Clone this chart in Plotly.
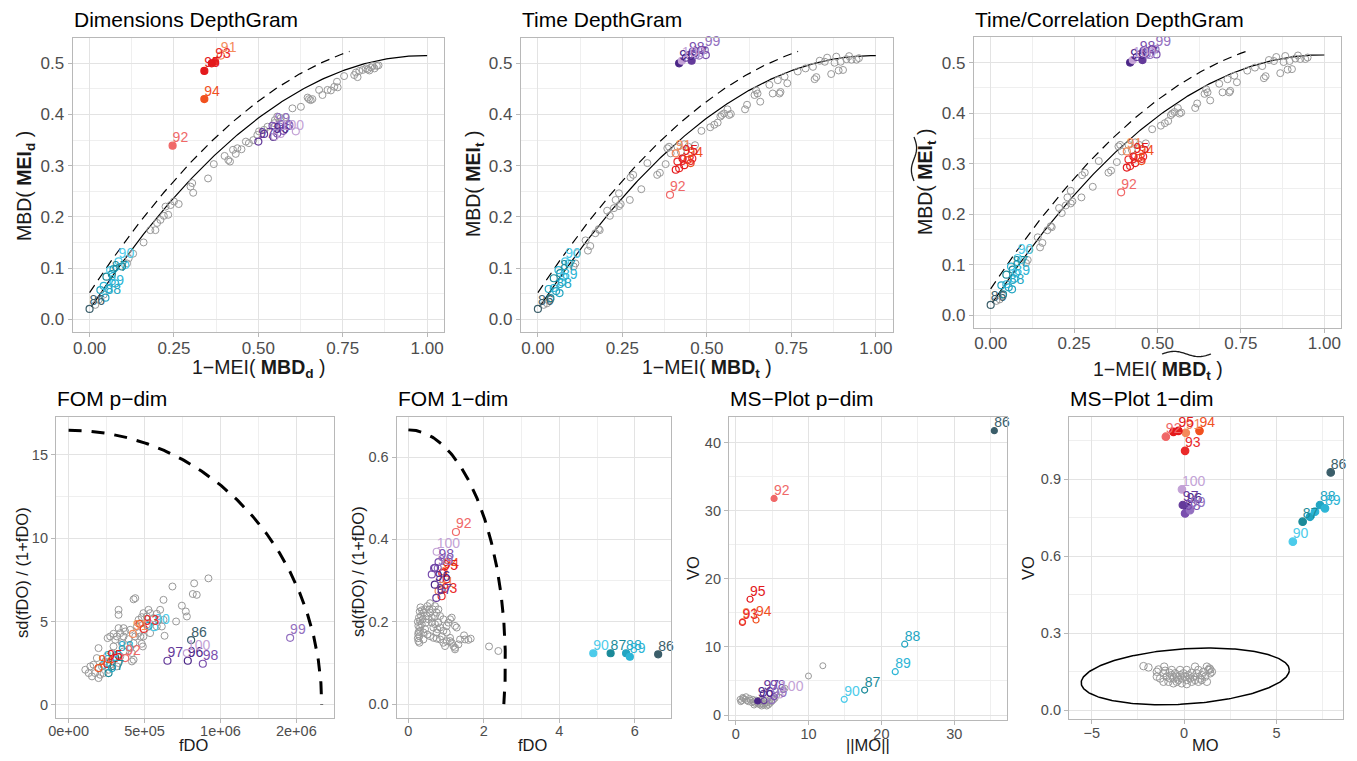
import numpy as np
import plotly.graph_objects as go

W, H = 1357, 761
FONT = "Liberation Sans, Arial, Helvetica, sans-serif"
GRAY = "#999999"
MAJOR_GRID = "#e3e3e3"
MINOR_GRID = "#efefef"
BORDER = "#b8b8b8"
TICK_TXT = "#4d4d4d"

PALETTE = {86: "#3b5e6a", 87: "#1b8a99", 88: "#22a5c2", 89: "#2cb5d6", 90: "#4ccbea",
           91: "#f48a5b", 92: "#f06868", 93: "#ea2a2a", 94: "#f1511f", 95: "#e3191c",
           96: "#4b2687", 97: "#643a9a", 98: "#7a4fae", 99: "#9370c0", 100: "#c3a2d6"}

# ---------------- Dimensions DepthGram ----------------
p1_gray_x = [0.017, 0.027, 0.042, 0.111, 0.129, 0.116, 0.160, 0.180, 0.195, 0.200, 0.210, 0.220, 0.233,
             0.225, 0.240, 0.250, 0.264, 0.304, 0.307, 0.299, 0.351, 0.368, 0.400, 0.411, 0.416, 0.425,
             0.433, 0.438, 0.450, 0.463, 0.472, 0.485, 0.497, 0.502, 0.517, 0.527, 0.547, 0.549, 0.556,
             0.566, 0.581, 0.601, 0.626, 0.646, 0.650, 0.655, 0.660, 0.680, 0.690, 0.705, 0.715, 0.725,
             0.733, 0.735, 0.754, 0.784, 0.789, 0.794, 0.799, 0.809, 0.819, 0.824, 0.829, 0.834, 0.839,
             0.844, 0.851, 0.856]
p1_gray_y = [0.028, 0.038, 0.048, 0.109, 0.128, 0.119, 0.150, 0.174, 0.174, 0.188, 0.194, 0.202, 0.204,
             0.220, 0.223, 0.230, 0.225, 0.266, 0.247, 0.259, 0.275, 0.303, 0.319, 0.311, 0.308, 0.331,
             0.323, 0.334, 0.332, 0.347, 0.344, 0.350, 0.360, 0.367, 0.370, 0.376, 0.383, 0.389, 0.396,
             0.393, 0.395, 0.412, 0.415, 0.433, 0.430, 0.428, 0.430, 0.448, 0.438, 0.448, 0.447, 0.454,
             0.464, 0.453, 0.475, 0.477, 0.482, 0.473, 0.485, 0.487, 0.490, 0.488, 0.486, 0.492, 0.495,
             0.490, 0.495, 0.496]
p1_out_id = [86, 87, 88, 89, 90, 88, 89, 87, 90, 88, 89, 90, 87,
             91, 92, 93, 94, 95, 95,
             96, 97, 98, 99, 100, 97, 98, 99, 99, 100, 98, 100]
p1_out_x = [0.000, 0.066, 0.047, 0.056, 0.086, 0.032, 0.042, 0.050, 0.061, 0.071, 0.076, 0.106, 0.096,
            0.389, 0.246, 0.372, 0.340, 0.340, 0.362,
            0.545, 0.500, 0.556, 0.548, 0.566, 0.517, 0.542, 0.564, 0.592, 0.611, 0.574, 0.548]
p1_out_y = [0.020, 0.088, 0.042, 0.059, 0.113, 0.057, 0.065, 0.083, 0.096, 0.098, 0.070, 0.106, 0.103,
            0.515, 0.339, 0.503, 0.430, 0.485, 0.500,
            0.356, 0.347, 0.363, 0.376, 0.362, 0.362, 0.378, 0.376, 0.379, 0.367, 0.368, 0.357]
p1_out_lab = [1, 1, 1, 1, 1, 0, 0, 0, 0, 0, 0, 0, 0,
              1, 1, 1, 1, 1, 0,
              1, 1, 1, 1, 1, 0, 0, 0, 0, 0, 0, 0]
p1_out_fill = [0, 0, 0, 0, 0, 0, 0, 0, 0, 0, 0, 0, 0,
               0, 1, 1, 1, 1, 1,
               0, 0, 0, 0, 0, 0, 0, 0, 0, 0, 0, 0]

# ---------------- Time DepthGram ----------------
p2_gray_x = [0.017, 0.027, 0.037, 0.111, 0.106, 0.116, 0.141, 0.155, 0.148, 0.170,
             0.180, 0.183, 0.205, 0.213, 0.225, 0.230, 0.240, 0.240, 0.245, 0.274,
             0.282, 0.272, 0.306, 0.324, 0.353, 0.361, 0.378, 0.383, 0.388, 0.393,
             0.413, 0.423, 0.433, 0.445, 0.465, 0.484, 0.510, 0.522, 0.532, 0.540,
             0.544, 0.551, 0.561, 0.566, 0.571, 0.613, 0.619, 0.641, 0.646, 0.650,
             0.658, 0.685, 0.695, 0.715, 0.710, 0.718, 0.730, 0.738, 0.769, 0.792,
             0.814, 0.819, 0.824, 0.834, 0.849, 0.856, 0.868, 0.878, 0.883, 0.890,
             0.896, 0.903, 0.913, 0.921, 0.928, 0.943, 0.950]
p2_gray_y = [0.028, 0.031, 0.038, 0.109, 0.103, 0.129, 0.154, 0.143, 0.134, 0.168,
             0.176, 0.174, 0.212, 0.202, 0.217, 0.233, 0.246, 0.221, 0.225, 0.277,
             0.282, 0.233, 0.254, 0.305, 0.282, 0.286, 0.303, 0.334, 0.337, 0.324,
             0.337, 0.327, 0.342, 0.337, 0.340, 0.368, 0.375, 0.380, 0.384, 0.396,
             0.399, 0.402, 0.410, 0.399, 0.401, 0.410, 0.419, 0.438, 0.447, 0.441,
             0.425, 0.458, 0.441, 0.441, 0.467, 0.444, 0.474, 0.461, 0.484, 0.490,
             0.493, 0.469, 0.473, 0.505, 0.503, 0.511, 0.479, 0.501, 0.513, 0.486,
             0.503, 0.487, 0.508, 0.514, 0.507, 0.507, 0.510]
p2_out_id = [86, 87, 88, 89, 90, 88, 87, 89, 90, 88, 89, 87, 90,
             91, 92, 93, 94, 95, 93, 95, 94, 93, 95,
             96, 97, 98, 99, 100, 98, 99, 99, 97, 98, 97]
p2_out_x = [0.000, 0.066, 0.054, 0.071, 0.081, 0.032, 0.047, 0.061, 0.076, 0.064, 0.047, 0.037, 0.091,
            0.408, 0.391, 0.418, 0.443, 0.428, 0.413, 0.433, 0.452, 0.457, 0.408,
            0.418, 0.455, 0.447, 0.494, 0.426, 0.458, 0.467, 0.477, 0.484, 0.497, 0.438]
p2_out_y = [0.020, 0.090, 0.055, 0.072, 0.113, 0.059, 0.080, 0.096, 0.083, 0.051, 0.061, 0.041, 0.109,
            0.324, 0.243, 0.295, 0.311, 0.314, 0.308, 0.301, 0.305, 0.314, 0.292,
            0.500, 0.505, 0.516, 0.526, 0.505, 0.523, 0.516, 0.515, 0.526, 0.516, 0.511]
p2_out_lab = [1, 1, 1, 1, 1, 0, 0, 0, 0, 0, 0, 0, 0,
              1, 1, 1, 1, 1, 0, 0, 0, 0, 0,
              1, 1, 1, 1, 1, 0, 0, 0, 0, 0, 0]
p2_out_fill = [0, 0, 0, 0, 0, 0, 0, 0, 0, 0, 0, 0, 0,
               0, 0, 0, 0, 0, 0, 0, 0, 0, 0,
               1, 1, 0, 0, 1, 0, 0, 0, 0, 0, 0]

# ---------------- Time/Correlation DepthGram (same depths to plotting precision) ----------------
p3_gray_x = list(p2_gray_x)
p3_gray_y = list(p2_gray_y)
p3_out_id = list(p2_out_id)
p3_out_x = list(p2_out_x)
p3_out_y = list(p2_out_y)
p3_out_lab = list(p2_out_lab)
p3_out_fill = list(p2_out_fill)

# DepthGram parabola and its shifted outlier boundary
dg_a0, dg_a1, dg_a2 = 0.019, 1.0, -0.504
dg_shift = 0.033
dg_solid_from, dg_dash_to = 0.005, 0.77

# ---------------- FOM p-dim (fDO values in units of 1e5) ----------------
p4_gray_x_1e5 = [1.10, 1.32, 1.54, 1.75, 1.43, 1.97, 2.08, 2.30, 1.64, 1.86,
                 1.97, 2.19, 2.41, 2.52, 2.63, 2.74, 2.85, 2.96, 3.07, 3.18,
                 3.29, 3.40, 3.62, 2.57, 2.74, 2.96, 3.07, 3.18, 3.29, 3.29,
                 3.29, 3.40, 3.51, 3.62, 3.73, 3.62, 3.95, 4.06, 4.17, 4.28,
                 4.39, 4.17, 4.28, 4.06, 4.50, 4.61, 4.72, 4.82, 4.93, 4.28,
                 4.39, 4.61, 4.72, 4.82, 4.89, 5.15, 5.26, 5.37, 5.59, 5.81,
                 5.92, 6.03, 6.14, 6.25, 6.32, 6.84, 7.08, 7.46, 7.72, 7.79,
                 8.27, 8.18, 8.44, 9.21, 6.25, 5.81, 5.15, 5.37, 4.93]
p4_gray_y = [2.10, 1.90, 1.70, 1.90, 2.30, 1.60, 1.80, 1.90, 2.40, 2.80,
             3.40, 2.30, 2.60, 2.90, 2.10, 2.40, 3.10, 3.50, 2.80, 2.30,
             2.50, 2.90, 3.20, 4.00, 4.10, 4.26, 3.90, 4.10, 4.60, 5.40,
             5.70, 4.30, 3.70, 4.10, 4.40, 4.60, 3.94, 3.40, 3.10, 3.70,
             4.10, 2.60, 2.70, 4.50, 4.70, 4.30, 4.86, 5.26, 5.50, 6.33,
             6.40, 5.10, 4.10, 3.66, 3.50, 5.30, 5.70, 5.50, 5.20, 5.46,
             5.10, 5.70, 4.70, 6.30, 4.14, 7.10, 5.00, 5.95, 5.60, 5.30,
             7.29, 6.65, 6.60, 7.59, 5.10, 4.70, 4.80, 4.30, 4.10]
p4_out_id = [86, 87, 88, 89, 90, 91, 92, 93, 94, 95, 96, 97, 98, 99, 100, 88, 94, 88, 95]
p4_out_x_1e5 = [8.07, 2.63, 3.25, 2.30, 5.64, 4.24, 3.73, 4.95, 1.97, 2.55, 7.85, 6.51, 8.84, 14.59, 7.79,
                5.27, 4.67, 2.85, 3.07]
p4_out_y = [3.88, 1.90, 3.00, 2.40, 4.66, 4.25, 2.80, 4.55, 2.20, 2.45, 2.64, 2.64, 2.46, 4.02, 3.10,
            4.74, 4.86, 2.20, 2.80]
p4_out_lab = [1] * 15 + [0] * 4
p4_out_fill = [0] * 19
p4_gray_x = [v * 1e5 for v in p4_gray_x_1e5]
p4_out_x = [v * 1e5 for v in p4_out_x_1e5]
fom_p_a, fom_p_b, fom_p_cy = 1.667e6, 16.49, 0.0

# ---------------- FOM 1-dim ----------------
p5_gray_x = [0.265, 0.291, 0.309, 0.265, 0.309, 0.336, 0.397, 0.442, 0.503, 0.574,
             0.645, 0.706, 0.751, 0.795, 0.839, 0.927, 1.015, 1.060, 1.104, 1.148,
             1.236, 1.280, 0.309, 0.353, 0.397, 0.442, 0.503, 0.574, 0.662, 0.751,
             0.839, 0.927, 0.971, 1.015, 1.104, 1.148, 1.192, 1.236, 1.325, 1.369,
             1.236, 1.104, 0.574, 0.486, 0.530, 0.618, 0.706, 0.768, 0.380, 0.291,
             1.475, 1.501, 1.589, 1.651, 2.137, 2.384, 0.397, 0.468, 0.839, 0.927,
             1.015, 0.751, 0.883, 0.662, 0.795, 0.618, 0.706, 0.556,
             0.250, 0.270, 0.250, 0.280, 0.300, 0.260, 0.320, 0.360]
p5_gray_y = [0.153, 0.165, 0.178, 0.190, 0.202, 0.214, 0.222, 0.230, 0.238, 0.245,
             0.230, 0.238, 0.222, 0.230, 0.214, 0.206, 0.190, 0.198, 0.206, 0.210,
             0.190, 0.186, 0.186, 0.194, 0.174, 0.182, 0.169, 0.165, 0.161, 0.159,
             0.157, 0.149, 0.141, 0.153, 0.161, 0.149, 0.141, 0.137, 0.145, 0.157,
             0.133, 0.153, 0.222, 0.214, 0.206, 0.198, 0.194, 0.182, 0.206, 0.149,
             0.167, 0.157, 0.156, 0.159, 0.140, 0.129, 0.157, 0.198, 0.186, 0.178,
             0.174, 0.174, 0.165, 0.186, 0.198, 0.210, 0.214, 0.230,
             0.160, 0.175, 0.200, 0.210, 0.225, 0.170, 0.235, 0.228]
p5_out_id = [86, 87, 88, 89, 90, 91, 92, 93, 94, 95, 96, 97, 98, 99, 100, 98, 97, 99, 96, 98, 95]
p5_out_x = [6.62, 5.36, 5.77, 5.87, 4.90, 0.80, 1.26, 0.88, 0.93, 0.90, 0.70, 0.74, 0.80, 0.78, 0.75,
            0.62, 0.706, 0.84, 0.88, 0.68, 1.015]
p5_out_y = [0.121, 0.1235, 0.1235, 0.115, 0.1235, 0.275, 0.418, 0.262, 0.322, 0.318, 0.290, 0.258, 0.345,
            0.330, 0.370, 0.315, 0.331, 0.303, 0.278, 0.330, 0.303]
p5_out_lab = [1] * 15 + [0] * 6
p5_out_fill = [1] * 5 + [0] * 16
fom_1_a, fom_1_b, fom_1_cy = 2.57, 0.566, 0.10

# ---------------- MS-Plot p-dim ----------------
p6_gray_x = [0.60, 0.82, 1.05, 1.28, 1.51, 1.74, 1.97, 2.20, 2.43, 2.66,
             2.89, 3.12, 3.34, 3.57, 3.80, 4.03, 4.26, 4.49, 4.72, 0.69,
             0.96, 1.42, 1.88, 2.34, 2.79, 3.25, 3.71, 4.17, 4.63, 4.95,
             5.18, 5.41, 5.63, 6.09, 6.55, 6.78, 9.99, 11.96, 3.34, 2.52,
             3.57, 4.26]
p6_gray_y = [2.30, 2.10, 2.45, 2.30, 2.10, 1.96, 2.20, 1.81, 1.96, 1.71,
             1.81, 1.62, 1.47, 1.71, 1.47, 1.62, 1.81, 1.47, 1.71, 1.96,
             2.59, 2.69, 2.45, 2.30, 2.20, 2.10, 1.96, 2.20, 2.10, 1.96,
             2.20, 2.45, 2.94, 3.43, 3.77, 3.92, 5.73, 7.24, 2.20, 1.47,
             1.32, 1.32]
p6_out_id = [86, 87, 88, 89, 90, 91, 92, 93, 94, 95, 96, 97, 98, 99, 100, 97, 98]
p6_out_x = [35.5, 17.7, 23.2, 21.9, 14.9, 0.95, 5.27, 0.92, 2.79, 1.97, 3.02, 3.80, 4.72, 4.95, 6.09,
            3.89, 5.27]
p6_out_y = [41.75, 3.67, 10.4, 6.36, 2.30, 13.7, 31.8, 13.6, 13.95, 17.0, 2.06, 3.18, 3.18, 2.10, 2.94,
            2.10, 2.69]
p6_out_lab = [1] * 15 + [0, 0]
p6_out_fill = [1, 0, 0, 0, 0, 0, 1, 0, 0, 0, 1, 0, 0, 0, 0, 0, 0]

# ---------------- MS-Plot 1-dim ----------------
p7_gray_x = [-2.20, -1.93, -1.48, -1.39, -1.12, -1.03, -0.94, -0.79, -0.67, -0.58,
             -0.49, -0.40, -0.31, -0.22, -0.13, -0.04, 0.05, 0.14, 0.23, 0.32,
             0.41, 0.50, 0.59, 0.68, 0.77, 0.86, 0.95, 1.05, 1.14, 1.23,
             1.32, 1.37, 1.41, 1.50, -1.30, -1.12, -0.85, -0.76, -0.58, -0.40,
             -0.13, 0.14, 0.41, 0.59, -1.48, -1.08, -0.67, -0.22, 0.14, 0.95,
             0.77, 1.23, 1.41]
p7_gray_y = [0.171, 0.166, 0.149, 0.158, 0.143, 0.153, 0.130, 0.145, 0.136, 0.123,
             0.143, 0.130, 0.117, 0.136, 0.123, 0.143, 0.130, 0.117, 0.136, 0.123,
             0.145, 0.130, 0.169, 0.143, 0.156, 0.123, 0.136, 0.149, 0.130, 0.110,
             0.156, 0.162, 0.143, 0.149, 0.123, 0.110, 0.110, 0.123, 0.104, 0.110,
             0.104, 0.101, 0.110, 0.117, 0.130, 0.169, 0.156, 0.156, 0.156, 0.117,
             0.110, 0.169, 0.158]
p7_out_id = [86, 87, 88, 89, 90, 91, 92, 93, 94, 95, 96, 97, 98, 99, 100, 95, 88, 89]
p7_out_x = [7.93, 6.41, 7.35, 7.62, 5.88, 0.09, -0.99, 0.05, 0.83, -0.31, 0.14, -0.07, 0.05, 0.32, -0.12,
            -0.58, 6.81, 7.08]
p7_out_y = [0.926, 0.734, 0.799, 0.786, 0.656, 1.080, 1.065, 1.010, 1.088, 1.088, 0.792, 0.799, 0.766,
            0.779, 0.860, 1.084, 0.753, 0.773]
p7_out_lab = [1] * 15 + [0] * 3
p7_out_fill = [1] * 18
# MS-Plot cutoff ellipse: centre and shape matrix
ms_cx, ms_cy = 0.06, 0.131
ms_m = [[5.63, 0.0], [0.0249, 0.1077]]

# ---------------- panel geometry (pixel rectangles: left, top, right, bottom) ----------------
rects = {
    1: (72.7, 37.7, 444.0, 332.0),
    2: (521.0, 37.7, 892.7, 332.0),
    3: (974.0, 37.3, 1341.0, 327.7),
    4: (56.0, 416.7, 334.3, 717.7),
    5: (396.7, 416.7, 671.0, 717.7),
    6: (729.0, 416.7, 1006.7, 720.0),
    7: (1069.0, 416.7, 1343.3, 719.0),
}


def px_x(px):
    return px / W


def px_y(py):
    return 1 - py / H


fig = go.Figure()


def refs(k):
    return ("x" if k == 1 else f"x{k}"), ("y" if k == 1 else f"y{k}")


def add_points(k, gx, gy, oid, ox, oy, olab, ofill, size):
    xa, ya = refs(k)
    fig.add_trace(go.Scatter(
        x=gx, y=gy, mode="markers", xaxis=xa, yaxis=ya, hoverinfo="skip",
        marker=dict(symbol="circle-open", size=size, color=GRAY, line=dict(width=1, color=GRAY))))
    cols = [PALETTE[i] for i in oid]
    syms = ["circle" if f else "circle-open" for f in ofill]
    fig.add_trace(go.Scatter(
        x=ox, y=oy, mode="markers", xaxis=xa, yaxis=ya, hoverinfo="skip",
        marker=dict(symbol=syms, size=size, color=cols, line=dict(width=1.2, color=cols))))
    # id labels of the outlying curves, placed just above-right of their point
    lx = [x for x, l in zip(ox, olab) if l]
    ly = [y for y, l in zip(oy, olab) if l]
    lt = [str(i) for i, l in zip(oid, olab) if l]
    lc = [PALETTE[i] for i, l in zip(oid, olab) if l]
    fig.add_trace(go.Scatter(
        x=lx, y=ly, mode="text", xaxis=xa, yaxis=ya, hoverinfo="skip",
        text=lt, textposition="top right", cliponaxis=False,
        textfont=dict(family=FONT, size=14, color=lc)))


def add_line(k, x, y, dash="solid", width=1.2):
    xa, ya = refs(k)
    fig.add_trace(go.Scatter(x=x, y=y, mode="lines", xaxis=xa, yaxis=ya, hoverinfo="skip",
                             line=dict(color="black", width=width, dash=dash)))


# DepthGram panels
for k in (1, 2, 3):
    xs = np.linspace(dg_solid_from, 1.0, 200)
    add_line(k, xs, dg_a0 + dg_a1 * xs + dg_a2 * xs ** 2)
    xd = np.linspace(0.0, dg_dash_to, 200)
    add_line(k, xd, dg_a0 + dg_a1 * xd + dg_a2 * xd ** 2 + dg_shift, dash="9px,6px", width=1.2)

add_points(1, p1_gray_x, p1_gray_y, p1_out_id, p1_out_x, p1_out_y, p1_out_lab, p1_out_fill, 7)
add_points(2, p2_gray_x, p2_gray_y, p2_out_id, p2_out_x, p2_out_y, p2_out_lab, p2_out_fill, 7)
add_points(3, p3_gray_x, p3_gray_y, p3_out_id, p3_out_x, p3_out_y, p3_out_lab, p3_out_fill, 7)

# FOM cutoff arcs
th = np.linspace(np.pi / 2, 0, 200)
add_line(4, fom_p_a * np.cos(th), fom_p_cy + fom_p_b * np.sin(th), dash="13px,10px", width=3)
th_end = -np.arcsin(fom_1_cy / fom_1_b)
th1 = np.linspace(np.pi / 2, th_end, 200)
add_line(5, fom_1_a * np.cos(th1), fom_1_cy + fom_1_b * np.sin(th1), dash="13px,10px", width=3)
add_points(4, p4_gray_x, p4_gray_y, p4_out_id, p4_out_x, p4_out_y, p4_out_lab, p4_out_fill, 7)
add_points(5, p5_gray_x, p5_gray_y, p5_out_id, p5_out_x, p5_out_y, p5_out_lab, p5_out_fill, 7)

# MS-Plots
add_points(6, p6_gray_x, p6_gray_y, p6_out_id, p6_out_x, p6_out_y, p6_out_lab, p6_out_fill, 6)
tt = np.linspace(0, 2 * np.pi, 300)
ex = ms_cx + ms_m[0][0] * np.cos(tt) + ms_m[0][1] * np.sin(tt)
ey = ms_cy + ms_m[1][0] * np.cos(tt) + ms_m[1][1] * np.sin(tt)
add_line(7, ex, ey, width=1.5)
add_points(7, p7_gray_x, p7_gray_y, p7_out_id, p7_out_x, p7_out_y, p7_out_lab, p7_out_fill, 7.5)

# ---------------- axes ----------------
dg_x = dict(range=[-0.05, 1.05], tickvals=[0, 0.25, 0.5, 0.75, 1.0],
            ticktext=["0.00", "0.25", "0.50", "0.75", "1.00"], minor=[0.125, 0.375, 0.625, 0.875])
dg_y = dict(range=[-0.025, 0.55], tickvals=[0, 0.1, 0.2, 0.3, 0.4, 0.5],
            ticktext=["0.0", "0.1", "0.2", "0.3", "0.4", "0.5"],
            minor=[0.05, 0.15, 0.25, 0.35, 0.45])
axes = {
    1: (dg_x, dg_y, 17),
    2: (dg_x, dg_y, 17),
    3: (dg_x, dg_y, 17),
    4: (dict(range=[-8.3e4, 1.75e6], tickvals=[0, 5e5, 1e6, 1.5e6],
             ticktext=["0e+00", "5e+05", "1e+06", "2e+06"], minor=[2.5e5, 7.5e5, 1.25e6]),
        dict(range=[-0.78, 17.3], tickvals=[0, 5, 10, 15], ticktext=["0", "5", "10", "15"],
             minor=[2.5, 7.5, 12.5]), 14.5),
    5: (dict(range=[-0.31, 6.96], tickvals=[0, 2, 4, 6], ticktext=["0", "2", "4", "6"], minor=[1, 3, 5]),
        dict(range=[-0.033, 0.698], tickvals=[0, 0.2, 0.4, 0.6], ticktext=["0.0", "0.2", "0.4", "0.6"],
             minor=[0.1, 0.3, 0.5]), 14.5),
    6: (dict(range=[-0.92, 37.2], tickvals=[0, 10, 20, 30], ticktext=["0", "10", "20", "30"],
             minor=[5, 15, 25, 35]),
        dict(range=[-0.73, 43.8], tickvals=[0, 10, 20, 30, 40], ticktext=["0", "10", "20", "30", "40"],
             minor=[5, 15, 25, 35]), 14.5),
    7: (dict(range=[-6.23, 8.61], tickvals=[-5, 0, 5], ticktext=["\u22125", "0", "5"],
             minor=[-2.5, 2.5, 7.5]),
        dict(range=[-0.035, 1.143], tickvals=[0, 0.3, 0.6, 0.9], ticktext=["0.0", "0.3", "0.6", "0.9"],
             minor=[0.15, 0.45, 0.75, 1.05]), 14.5),
}


def axis_dict(spec, domain, anchor, fsize, standoff):
    return dict(domain=domain, range=spec["range"], tickmode="array", tickvals=spec["tickvals"],
                ticktext=spec["ticktext"], anchor=anchor,
                showgrid=True, gridcolor=MAJOR_GRID, gridwidth=1,
                minor=dict(tickmode="array", tickvals=spec["minor"], showgrid=True,
                           gridcolor=MINOR_GRID, gridwidth=0.8, ticks=""),
                showline=True, mirror=True, linecolor=BORDER, linewidth=1.2,
                ticks="outside", ticklen=4, tickwidth=1, tickcolor=BORDER,
                ticklabelstandoff=standoff,
                tickfont=dict(family=FONT, size=fsize, color=TICK_TXT),
                zeroline=False, fixedrange=True, automargin=False)


layout = dict(width=W, height=H, margin=dict(l=0, r=0, t=0, b=0, autoexpand=False), showlegend=False,
              paper_bgcolor="white", plot_bgcolor="white", font=dict(family=FONT))
for k, (sx, sy, fs) in axes.items():
    l, t, r, b = rects[k]
    sfx = "" if k == 1 else str(k)
    layout[f"xaxis{sfx}"] = axis_dict(sx, [px_x(l), px_x(r)], f"y{sfx}", fs, -4)
    layout[f"yaxis{sfx}"] = axis_dict(sy, [px_y(b), px_y(t)], f"x{sfx}", fs, 0)
fig.update_layout(**layout)

# ---------------- titles and axis titles ----------------
titles = {1: "Dimensions DepthGram", 2: "Time DepthGram", 3: "Time/Correlation DepthGram",
          4: "FOM p\u2212dim", 5: "FOM 1\u2212dim", 6: "MS\u2212Plot p\u2212dim", 7: "MS\u2212Plot 1\u2212dim"}
title_cy = {1: 20, 2: 20, 3: 20, 4: 398, 5: 398, 6: 398, 7: 398}
ann = []
for k, txt in titles.items():
    ann.append(dict(text=txt, x=px_x(rects[k][0] - 1), y=px_y(title_cy[k]), xref="paper", yref="paper",
                    xanchor="left", yanchor="middle", showarrow=False,
                    font=dict(family=FONT, size=21, color="black")))

xtitles = [
    ("1\u2212MEI( <b>MBD<sub>d</sub></b> )", 259, 369, 19.5),
    ("1\u2212MEI( <b>MBD<sub>t</sub></b> )", 707, 369, 19.5),
    ("1\u2212MEI( <b>MBD<sub>t</sub></b> )", 1158, 370, 19.5),
    ("fDO", 194, 745, 16.5), ("fDO", 533, 745, 16.5), ("||MO||", 868, 745, 16.5), ("MO", 1205, 745, 16.5),
]
ytitles = [
    ("MBD( <b>MEI<sub>d</sub></b> )", 25, 186, 19.5),
    ("MBD( <b>MEI<sub>t</sub></b> )", 474, 184, 19.5),
    ("MBD( <b>MEI<sub>t</sub></b> )", 927, 182, 19.5),
    ("sd(fDO) / (1+fDO)", 22, 573, 16.5), ("sd(fDO) / (1+fDO)", 358, 572, 16.5),
    ("VO", 693, 568, 16.5), ("VO", 1028, 568, 16.5),
]
for txt, cx, cy, fs in xtitles:
    ann.append(dict(text=txt, x=px_x(cx), y=px_y(cy), xref="paper", yref="paper", xanchor="center",
                    yanchor="middle", showarrow=False, font=dict(family=FONT, size=fs, color="#1a1a1a")))
for txt, cx, cy, fs in ytitles:
    ann.append(dict(text=txt, x=px_x(cx), y=px_y(cy), xref="paper", yref="paper", xanchor="center",
                    yanchor="middle", showarrow=False, textangle=-90,
                    font=dict(family=FONT, size=fs, color="#1a1a1a")))
fig.update_layout(annotations=ann)


# wide tildes over the smoothed depth symbols of the third panel
def tilde_path(a0, a1, c, amp, vertical=False):
    s = np.linspace(0, 1, 40)
    wave = amp * np.sin(2 * np.pi * s)
    if not vertical:
        pts = [(px_x(a0 + (a1 - a0) * v), px_y(c - w)) for v, w in zip(s, wave)]
    else:
        pts = [(px_x(c - w), px_y(a0 + (a1 - a0) * v)) for v, w in zip(s, wave)]
    return "M " + " L ".join(f"{a:.5f},{b:.5f}" for a, b in pts)


fig.update_layout(shapes=[
    dict(type="path", xref="paper", yref="paper", path=tilde_path(1162, 1211, 354.0, 2.6),
         line=dict(color="#1a1a1a", width=1.3)),
    dict(type="path", xref="paper", yref="paper", path=tilde_path(181, 137, 914.0, 2.6, vertical=True),
         line=dict(color="#1a1a1a", width=1.3)),
])

fig.write_html("out.html")
